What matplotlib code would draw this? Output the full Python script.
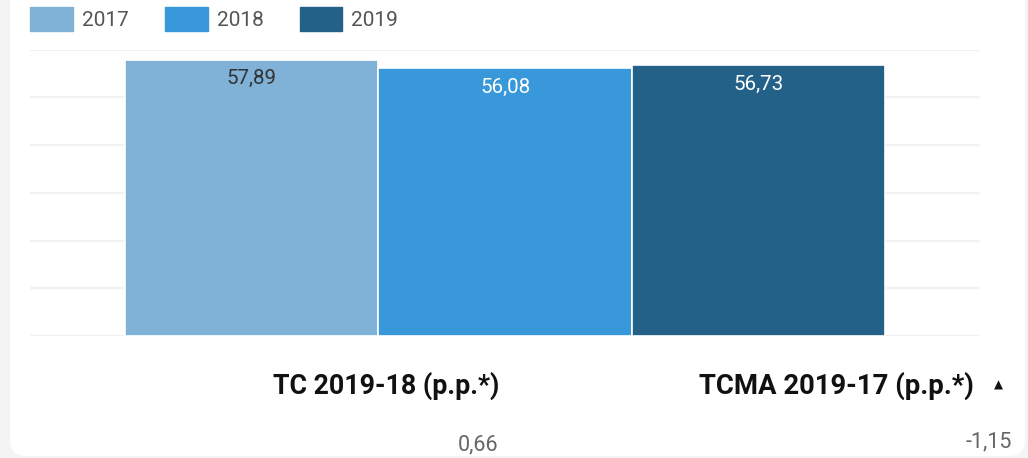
import matplotlib.pyplot as plt
import matplotlib.patches as mpatches
import numpy as np

# data
years = ["2017", "2018", "2019"]
values = [57.89, 56.08, 56.73]
bar_colors = ["#7fb2d6", "#3898da", "#236189"]
label_colors = ["#333333", "#ffffff", "#ffffff"]
summary_titles = ["TC 2019-18 (p.p.*)", "TCMA 2019-17 (p.p.*)"]
summary_values = [0.66, -1.15]


def fmt(v):
    return f"{v:.2f}".replace(".", ",")


plt.rcParams["font.family"] = ["Roboto", "DejaVu Sans"]

W, H = 1028, 458
fig = plt.figure(figsize=(W / 100, H / 100), dpi=100)
fig.patch.set_facecolor("#f4f4f4")

# white card behind everything
card = mpatches.FancyBboxPatch(
    (10, 2), 1015, 520,
    boxstyle="round,pad=0,rounding_size=16",
    transform=None, facecolor="white", edgecolor="none", zorder=-10,
)
fig.patches.append(card)

ax = fig.add_axes([30 / W, (H - 336) / H, 950 / W, (336 - 49.5) / H])
ax.set_facecolor("none")

width = 0.8 / len(years)
x = (np.arange(len(years)) - (len(years) - 1) / 2) * width
bars = ax.bar(x, values, width=width, color=bar_colors,
              edgecolor="white", linewidth=1.2)

for b, v, c in zip(bars, values, label_colors):
    ax.annotate(fmt(v), (b.get_x() + b.get_width() / 2, v),
                xytext=(0, -7), textcoords="offset points",
                ha="center", va="top", fontsize=14.8, color=c)

ax.set_xlim(-0.5, 0.5)
ax.set_ylim(0, 60)
ax.set_yticks(np.arange(0, 61, 10))
ax.grid(axis="y", color="#f1f1f1", linewidth=1.6)
ax.set_axisbelow(True)
ax.tick_params(length=0, labelleft=False, labelbottom=False)
for s in ax.spines.values():
    s.set_visible(False)

handles = [mpatches.Patch(color=c, label=y) for c, y in zip(bar_colors, years)]
fig.legend(handles=handles, loc="upper left", bbox_to_anchor=(30 / W, 1 - 7 / H),
           ncol=3, frameon=False, fontsize=15, handlelength=2.05,
           handleheight=1.4, handletextpad=0.43, columnspacing=1.75,
           borderpad=0, borderaxespad=0, labelcolor="#555555")

# summary block
fig.text(386 / W, 1 - 394 / H, summary_titles[0], ha="center", va="baseline",
         fontsize=19.3, fontweight="bold", color="#111111")
fig.text(498 / W, 1 - 450 / H, fmt(summary_values[0]), ha="right", va="baseline",
         fontsize=15.5, color="#666666")
fig.text(974 / W, 1 - 394 / H, summary_titles[1], ha="right", va="baseline",
         fontsize=19.8, fontweight="bold", color="#111111")
fig.text(998 / W, 1 - 385 / H, "▲", ha="center", va="center",
         fontsize=8.5, color="#111111", family="DejaVu Sans")
fig.text(1012 / W, 1 - 447 / H, fmt(summary_values[1]), ha="right", va="baseline",
         fontsize=15.5, color="#666666")

fig.savefig("out.png", dpi=100, facecolor=fig.get_facecolor())
